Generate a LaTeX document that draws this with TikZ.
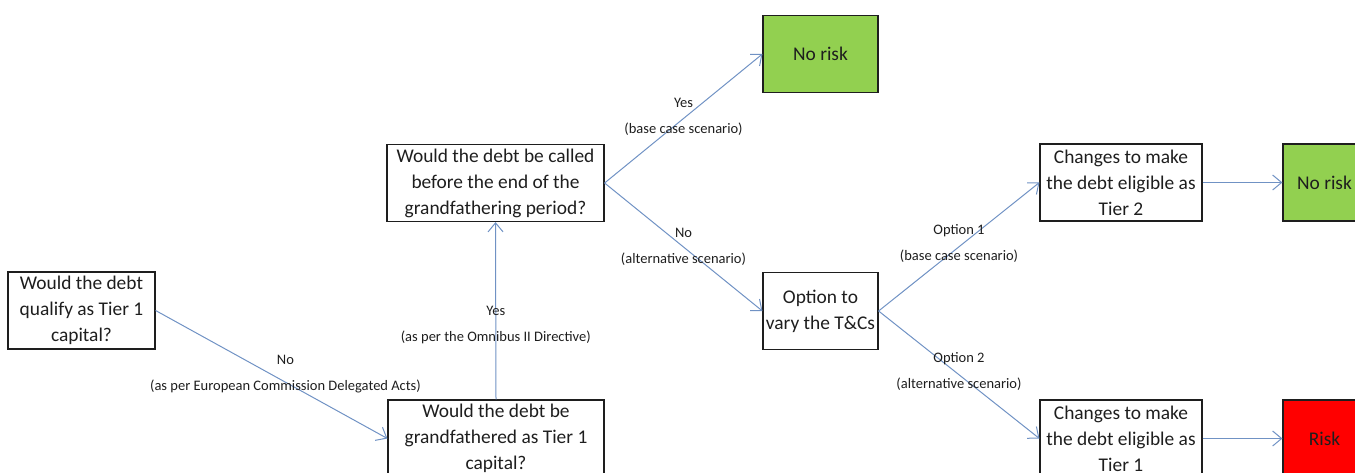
\documentclass[tikz,border=0pt]{standalone}
\usepackage{fontspec}
\setmainfont{Carlito}
\usetikzlibrary{arrows.meta}

\definecolor{flowblue}{RGB}{112,146,196}
\definecolor{riskgreen}{RGB}{146,208,80}
\definecolor{riskred}{RGB}{255,0,0}
\definecolor{inkgray}{RGB}{30,30,30}

\begin{document}
\begin{tikzpicture}[x=1pt,y=-1pt,
    box/.style={draw=inkgray, line width=1.2pt, align=center, inner sep=0pt,
      font=\fontsize{19.4}{26}\selectfont, text=inkgray},
    flow/.style={draw=flowblue, line width=1pt,
      -{Straight Barb[length=9pt,width=15pt,line width=1pt]}},
    lbl/.style={align=center, inner sep=0pt, font=\fontsize{14.5}{16}\selectfont,
      text=inkgray}]
  % canvas 1355 x 472 px, 1 px = 1 pt, y grows downwards
  \clip (0,0) rectangle (1355,472);

  % ── questions ──
  \node[box, minimum width=147pt, minimum height=77pt] (qual)   at (81.5,310.5)
    {Would the debt\\qualify as Tier 1\\capital?};
  \node[box, minimum width=216pt, minimum height=77pt] (grand)  at (496,438.5)
    {Would the debt be\\grandfathered as Tier 1\\capital?};
  \node[box, minimum width=217pt, minimum height=77pt] (called) at (495.5,183)
    {Would the debt be called\\before the end of the\\grandfathering period?};
  \node[box, minimum width=115pt, minimum height=77pt] (vary)   at (820.5,311)
    {Option to\\vary the T\&Cs};
  \node[box, minimum width=162pt, minimum height=77pt] (tiertwo) at (1121,182.5)
    {Changes to make\\the debt eligible as\\Tier 2};
  \node[box, minimum width=162pt, minimum height=77pt] (tierone) at (1121,438.5)
    {Changes to make\\the debt eligible as\\Tier 1};

  % ── outcomes ──
  \node[box, fill=riskgreen, minimum width=115pt, minimum height=77pt] (norisk)  at (820.5,54)
    {No risk};
  \node[box, fill=riskgreen, minimum width=83pt, minimum height=77pt] (noriskb) at (1324.5,182.5)
    {No risk};
  \node[box, fill=riskred, minimum width=83pt, minimum height=77pt] (risk)     at (1324.5,438.5)
    {Risk};

  % ── connectors ──
  \draw[flow] (qual.east) -- node[lbl, xshift=14pt]
    {No\\[10pt](as per European Commission Delegated Acts)} (grand.west);
  \draw[flow] (grand.north) -- node[lbl, pos=0.42]
    {Yes\\[10pt](as per the Omnibus II Directive)} (called.south);
  \draw[flow] (called.east) -- node[lbl, yshift=2pt] {Yes\\[10pt](base case scenario)} (norisk.west);
  \draw[flow] (called.east) -- node[lbl] {No\\[10pt](alternative scenario)} (vary.west);
  \draw[flow] (vary.east) -- node[lbl, yshift=3pt] {Option 1\\[10pt](base case scenario)} (tiertwo.west);
  \draw[flow] (vary.east) -- node[lbl, yshift=3pt] {Option 2\\[10pt](alternative scenario)} (tierone.west);
  \draw[flow] (tiertwo.east) -- (noriskb.west);
  \draw[flow] (tierone.east) -- (risk.west);
\end{tikzpicture}
\end{document}
